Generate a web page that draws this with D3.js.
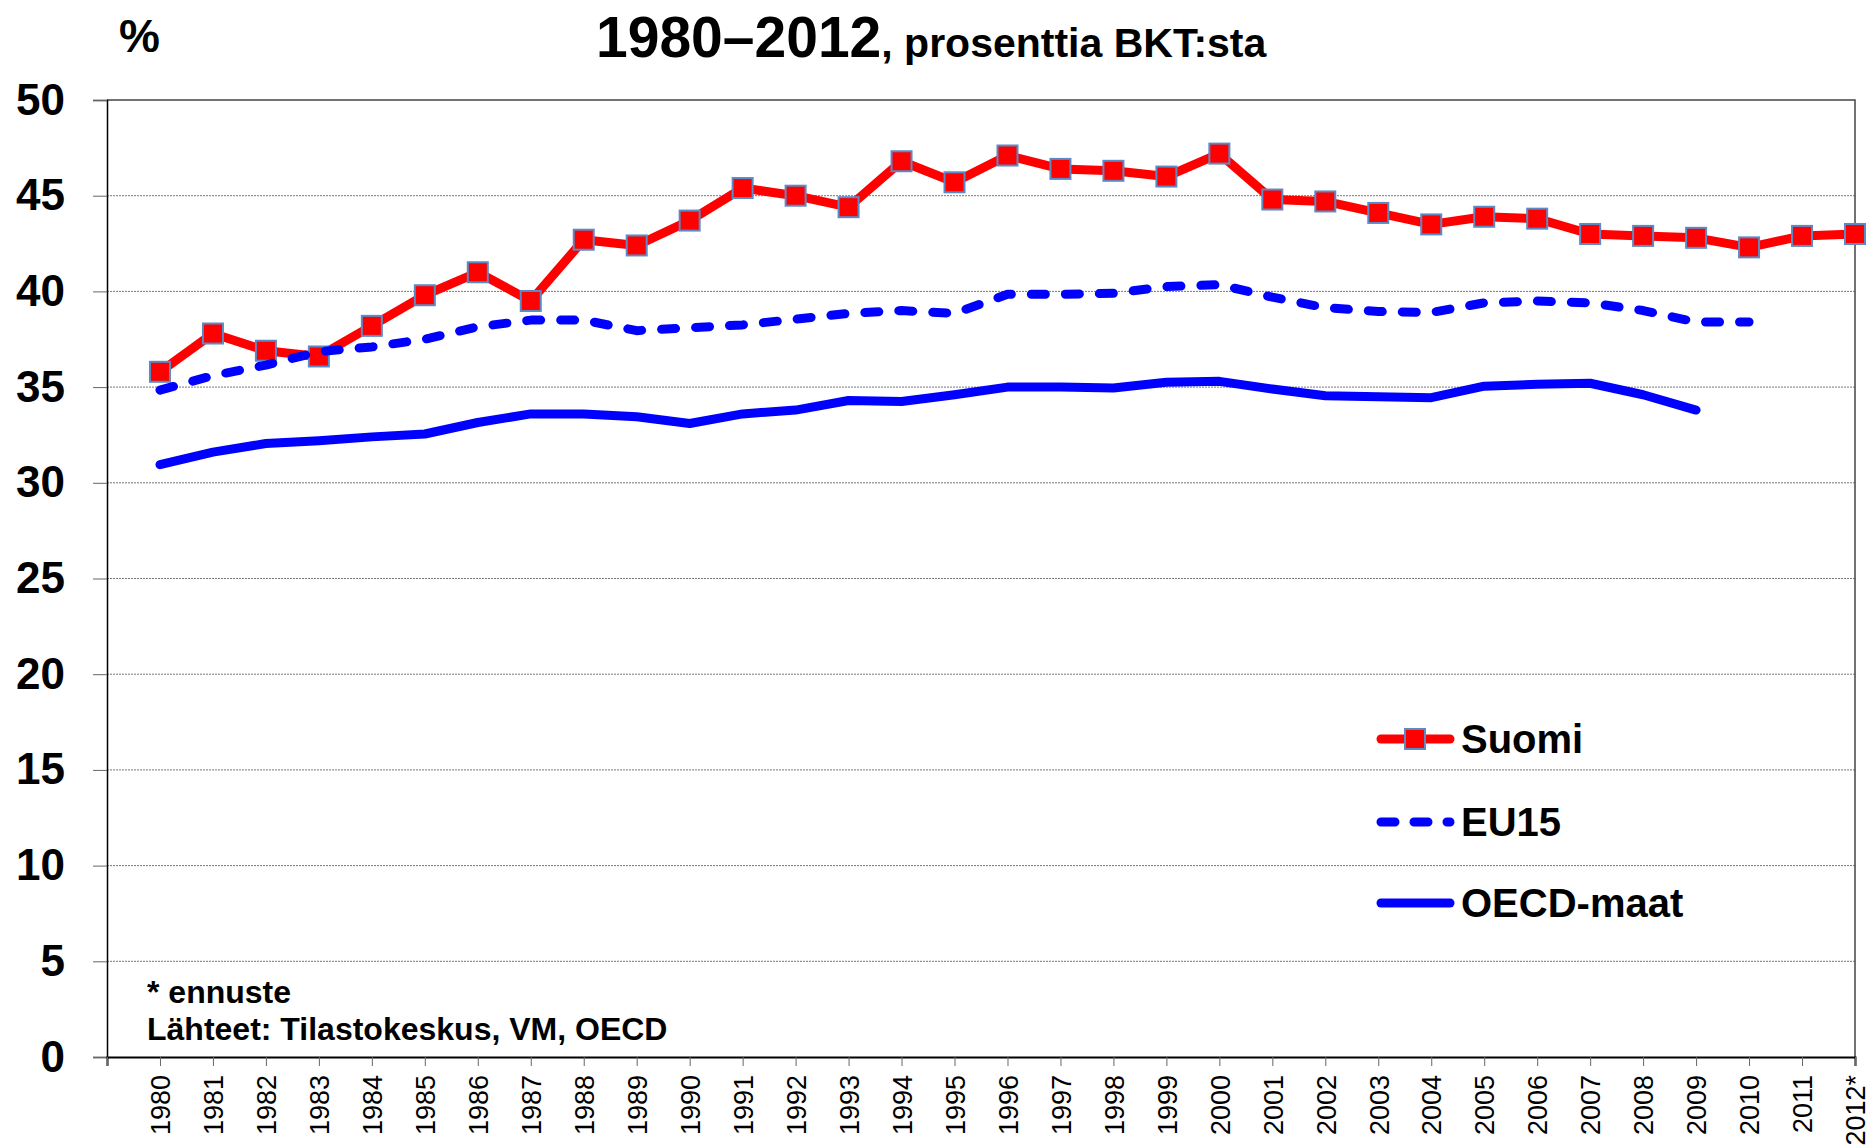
<!DOCTYPE html>
<html>
<head>
<meta charset="utf-8">
<script src="https://d3js.org/d3.v7.min.js"></script>
<style>
  body { margin: 0; background: #fff; }
  * { font-family: "Liberation Sans", Arial, sans-serif; }
  .ylab text { font-size: 44px; font-weight: bold; fill: #000; }
  .xlab text { font-size: 27px; fill: #000; }
  .grid line { stroke: #777; stroke-width: 1; stroke-dasharray: 2,1; }
  .legend text { font-size: 40px; font-weight: bold; }
  .note { font-size: 32px; font-weight: bold; }
</style>
</head>
<body>
<script>
// data
const years = d3.range(1980, 2013);
const yearLabels = years.map(d => d === 2012 ? "2012*" : String(d));
const suomi = [35.8, 37.8, 36.9, 36.6, 38.2, 39.8, 41.0, 39.5, 42.7, 42.4,
  43.7, 45.4, 45.0, 44.4, 46.8, 45.7, 47.1, 46.4, 46.3, 46.0,
  47.2, 44.8, 44.7, 44.1, 43.5, 43.9, 43.8, 43.0, 42.9, 42.8,
  42.3, 42.9, 43.0];
const eu15 = [34.84, 35.6, 36.15, 36.85, 37.1, 37.5, 38.15, 38.5, 38.5, 37.95,
  38.1, 38.25, 38.55, 38.85, 39.0, 38.85, 39.85, 39.85, 39.9, 40.25,
  40.35, 39.7, 39.15, 38.95, 38.9, 39.4, 39.5, 39.4, 39.0, 38.4, 38.4];
const oecd = [30.95, 31.6, 32.05, 32.2, 32.4, 32.55, 33.15, 33.6, 33.6, 33.45,
  33.1, 33.6, 33.8, 34.3, 34.25, 34.6, 35.0, 35.0, 34.95, 35.25,
  35.3, 34.9, 34.55, 34.5, 34.45, 35.05, 35.15, 35.2, 34.6, 33.8];
const yTicks = [0, 5, 10, 15, 20, 25, 30, 35, 40, 45, 50];
const seriesNames = ["Suomi", "EU15", "OECD-maat"];

const W = 1870, H = 1148;
const margin = {top: 100, right: 15, bottom: 91, left: 107};
const width = W - margin.left - margin.right,
      height = H - margin.top - margin.bottom;

const svg = d3.select("body").append("svg")
  .attr("width", W).attr("height", H);

const g = svg.append("g")
  .attr("transform", "translate(" + margin.left + "," + margin.top + ")");

const x = d3.scaleLinear().domain([1979, 2012]).range([0, width]);
const y = d3.scaleLinear().domain([0, 50]).range([height, 0]);

// gridlines
g.append("g").attr("class", "grid")
  .selectAll("line").data(yTicks.filter(d => d > 0 && d < 50))
  .enter().append("line")
  .attr("x1", 0).attr("x2", width)
  .attr("y1", d => y(d)).attr("y2", d => y(d));

// plot border top + right
g.append("path")
  .attr("d", "M0," + y(50) + "H" + width + "V" + height)
  .attr("fill", "none").attr("stroke", "#444").attr("stroke-width", 1.5);

// y axis
const yAxis = g.append("g").attr("class", "ylab")
  .call(d3.axisLeft(y).tickValues(yTicks).tickSize(14).tickPadding(28));
yAxis.select(".domain").attr("stroke", "#000").attr("stroke-width", 1.5);
yAxis.selectAll(".tick line").attr("stroke", "#666");
yAxis.selectAll("text").attr("font-family", null).attr("font-size", null);

// x axis
const xAxis = g.append("g").attr("class", "xlab")
  .attr("transform", "translate(0," + height + ")")
  .call(d3.axisBottom(x)
    .tickValues(d3.range(1979, 2013))
    .tickSize(9)
    .tickFormat(d => d < 1980 ? "" : yearLabels[d - 1980]));
xAxis.select(".domain").attr("stroke", "#000").attr("stroke-width", 2);
xAxis.selectAll(".tick line").attr("stroke", "#666");
xAxis.selectAll("text")
  .attr("font-family", null).attr("font-size", null)
  .attr("transform", "rotate(-90)")
  .attr("text-anchor", "end")
  .attr("x", -18).attr("y", 0).attr("dy", "0.36em");

const line = d3.line()
  .x((d, i) => x(years[i]))
  .y(d => y(d));

// Suomi
g.append("path").datum(suomi)
  .attr("d", line).attr("fill", "none")
  .attr("stroke", "#ff0000").attr("stroke-width", 9)
  .attr("stroke-linejoin", "round").attr("stroke-linecap", "round");
g.selectAll(".mk").data(suomi).enter().append("rect")
  .attr("class", "mk")
  .attr("x", (d, i) => x(years[i]) - 10)
  .attr("y", d => y(d) - 10)
  .attr("width", 20).attr("height", 20)
  .attr("fill", "#ff0000").attr("stroke", "#5b8ac6").attr("stroke-width", 2);

// EU15
g.append("path").datum(eu15)
  .attr("d", line).attr("fill", "none")
  .attr("stroke", "#0000ff").attr("stroke-width", 9)
  .attr("stroke-dasharray", "14,20")
  .attr("stroke-linejoin", "round").attr("stroke-linecap", "round");

// OECD
g.append("path").datum(oecd)
  .attr("d", line).attr("fill", "none")
  .attr("stroke", "#0000ff").attr("stroke-width", 9)
  .attr("stroke-linejoin", "round").attr("stroke-linecap", "round");

// legend
const legY = [739, 822, 903];
const leg = svg.append("g").attr("class", "legend");
seriesNames.forEach((name, i) => {
  const ly = legY[i];
  const l = leg.append("line")
    .attr("x1", 1381).attr("x2", 1450).attr("y1", ly).attr("y2", ly)
    .attr("stroke", i === 0 ? "#ff0000" : "#0000ff")
    .attr("stroke-width", 9).attr("stroke-linecap", "round");
  if (i === 1) l.attr("stroke-dasharray", "14,19");
  if (i === 0) {
    leg.append("rect").attr("x", 1405).attr("y", ly - 10)
      .attr("width", 20).attr("height", 20)
      .attr("fill", "#ff0000").attr("stroke", "#5b8ac6").attr("stroke-width", 2);
  }
  leg.append("text").attr("x", 1461).attr("y", ly + 14).text(name);
});

// titles and notes
svg.append("text").attr("x", 119).attr("y", 52)
  .attr("font-size", 46).attr("font-weight", "bold").text("%");

const title = svg.append("text").attr("x", 596).attr("y", 57)
  .attr("font-weight", "bold");
title.append("tspan").attr("font-size", 57).text("1980–2012");
title.append("tspan").attr("font-size", 41).text(", prosenttia BKT:sta");

svg.append("text").attr("class", "note").attr("x", 147).attr("y", 1003)
  .text("* ennuste");
svg.append("text").attr("class", "note").attr("x", 147).attr("y", 1040)
  .text("Lähteet: Tilastokeskus, VM, OECD");
</script>
</body>
</html>
